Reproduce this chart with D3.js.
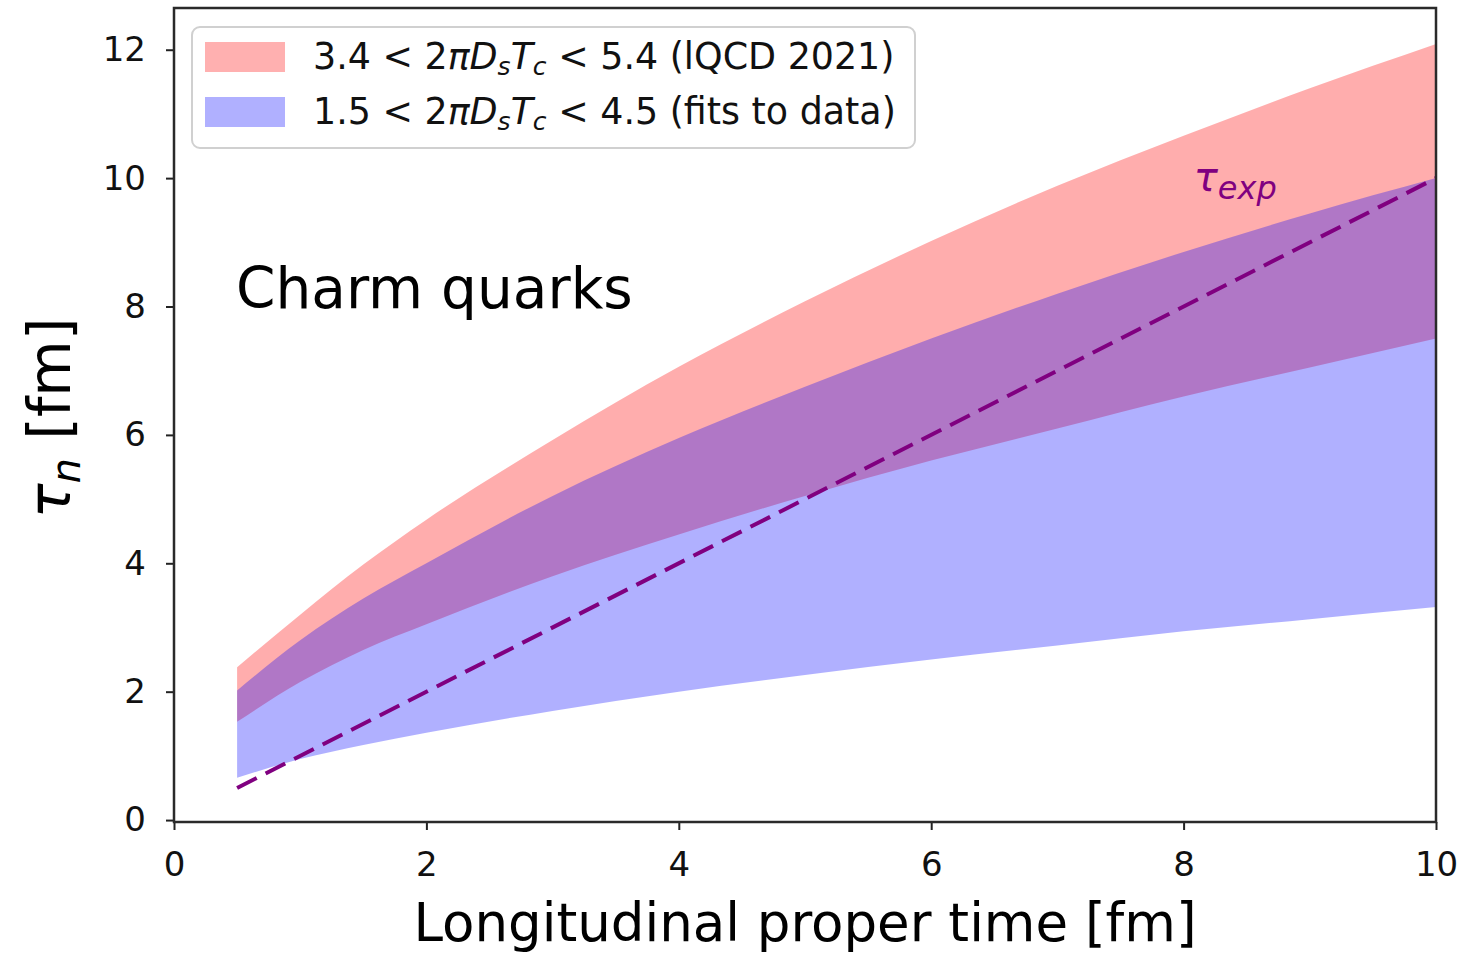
<!DOCTYPE html>
<html>
<head>
<meta charset="utf-8">
<script src="https://cdn.jsdelivr.net/npm/d3@7"></script>
<style>
  html, body { margin: 0; padding: 0; background: #fff; }
  svg { display: block; font-family: "DejaVu Sans", sans-serif; }
</style>
</head>
<body>
<svg id="chart" width="1483" height="954"></svg>
<script>
// Longitudinal proper time [fm]
const time = [0.5, 1, 1.5, 2, 3, 4, 5, 6, 7, 8, 9, 10];
// 3.4 < 2πD_sT_c < 5.4 (lQCD 2021)
const lqcdLow  = [1.53, 2.15, 2.65, 3.05, 3.8, 4.45, 5.05, 5.6, 6.1, 6.6, 7.05, 7.5];
const lqcdHigh = [2.38, 3.2, 3.98, 4.68, 5.92, 7.06, 8.08, 9.02, 9.88, 10.66, 11.4, 12.09];
// 1.5 < 2πD_sT_c < 4.5 (fits to data)
const fitLow  = [0.66, 0.95, 1.17, 1.36, 1.7, 2.0, 2.26, 2.5, 2.72, 2.94, 3.13, 3.32];
const fitHigh = [2.02, 2.8, 3.45, 4.0, 5.05, 5.95, 6.75, 7.5, 8.2, 8.85, 9.45, 10.0];
// Reference line τ_n = τ
const expTime = [0.5, 10];
const expTau  = [0.5, 10];

const xTicks = [0, 2, 4, 6, 8, 10];
const yTicks = [0, 2, 4, 6, 8, 10, 12];

const svg = d3.select("#chart");
const mLeft = 174, mRight = 1436, mTop = 8, mBottom = 822;

const x = d3.scaleLinear().domain([0, 10]).range([mLeft, mRight]);
const y = d3.scaleLinear().domain([-0.03, 12.65]).range([mBottom, mTop]);

const bandArea = (lo, hi) => d3.area()
  .curve(d3.curveMonotoneX)
  .x((d, i) => x(time[i]))
  .y0((d, i) => y(lo[i]))
  .y1((d, i) => y(hi[i]))(time);

const plot = svg.append("g");
plot.append("path").attr("d", bandArea(lqcdLow, lqcdHigh))
  .attr("fill", "red").attr("fill-opacity", 0.32);
plot.append("path").attr("d", bandArea(fitLow, fitHigh))
  .attr("fill", "blue").attr("fill-opacity", 0.31);

plot.append("path")
  .attr("d", d3.line().x((d, i) => x(expTime[i])).y((d, i) => y(expTau[i]))(expTime))
  .attr("fill", "none").attr("stroke", "#800080").attr("stroke-width", 4)
  .attr("stroke-dasharray", "22 10");

// τ_exp label
const lbl = svg.append("text").attr("x", x(8.08)).attr("y", y(9.8))
  .attr("fill", "#800080").attr("font-style", "italic").attr("font-size", 40);
lbl.append("tspan").text("τ");
lbl.append("tspan").attr("font-size", 32).attr("dy", 8).text("exp");

// Annotation
svg.append("text").attr("x", 236).attr("y", 308).attr("font-size", 56.5)
  .attr("fill", "#000").text("Charm quarks");

// Axes
const xAxis = d3.axisBottom(x).tickValues(xTicks).tickSize(8).tickPadding(22)
  .tickFormat(d3.format("d"));
const yAxis = d3.axisLeft(y).tickValues(yTicks).tickSize(8).tickPadding(20)
  .tickFormat(d3.format("d"));

const gx = svg.append("g").attr("transform", `translate(0,${mBottom})`).call(xAxis);
const gy = svg.append("g").attr("transform", `translate(${mLeft},0)`).call(yAxis);
[gx, gy].forEach(g => {
  g.select(".domain").remove();
  g.selectAll(".tick line").attr("stroke", "#222").attr("stroke-width", 2);
  g.selectAll(".tick text").attr("font-size", 34).attr("fill", "#111")
    .attr("font-family", "DejaVu Sans");
});

// Frame
svg.append("rect").attr("x", mLeft).attr("y", mTop)
  .attr("width", mRight - mLeft).attr("height", mBottom - mTop)
  .attr("fill", "none").attr("stroke", "#2a2a2a").attr("stroke-width", 2.5);

// Axis titles
svg.append("text").attr("x", (mLeft + mRight) / 2).attr("y", 941)
  .attr("text-anchor", "middle").attr("font-size", 53).attr("fill", "#000")
  .text("Longitudinal proper time [fm]");

const yl = svg.append("text").attr("transform", "translate(70,418) rotate(-90)")
  .attr("text-anchor", "middle").attr("font-size", 58).attr("fill", "#000");
yl.append("tspan").attr("font-style", "italic").text("τ");
yl.append("tspan").attr("font-style", "italic").attr("font-size", 40).attr("dy", 10).text("n");
yl.append("tspan").attr("dy", -10).text(" [fm]");

// Legend
const legend = svg.append("g");
legend.append("rect").attr("x", 192).attr("y", 27).attr("width", 723).attr("height", 121)
  .attr("rx", 8).attr("fill", "#fff").attr("fill-opacity", 0.8)
  .attr("stroke", "#d0d0d0").attr("stroke-width", 2);

const entries = [
  { color: "red", lo: "3.4", hi: "5.4", note: "(lQCD 2021)" },
  { color: "blue", lo: "1.5", hi: "4.5", note: "(fits to data)" }
];
entries.forEach((e, i) => {
  const cy = 57 + i * 55;
  legend.append("rect").attr("x", 205).attr("y", cy - 15).attr("width", 80).attr("height", 30)
    .attr("fill", e.color).attr("fill-opacity", 0.31);
  const t = legend.append("text").attr("x", 313).attr("y", cy + 12)
    .attr("font-size", 36.4).attr("fill", "#111");
  t.append("tspan").text(`${e.lo} < 2`);
  t.append("tspan").attr("font-style", "italic").text("πD");
  t.append("tspan").attr("font-style", "italic").attr("font-size", 25).attr("dy", 6).text("s");
  t.append("tspan").attr("font-style", "italic").attr("dy", -6).text("T");
  t.append("tspan").attr("font-style", "italic").attr("font-size", 25).attr("dy", 6).text("c");
  t.append("tspan").attr("dy", -6).text(` < ${e.hi} ${e.note}`);
});
</script>
</body>
</html>
